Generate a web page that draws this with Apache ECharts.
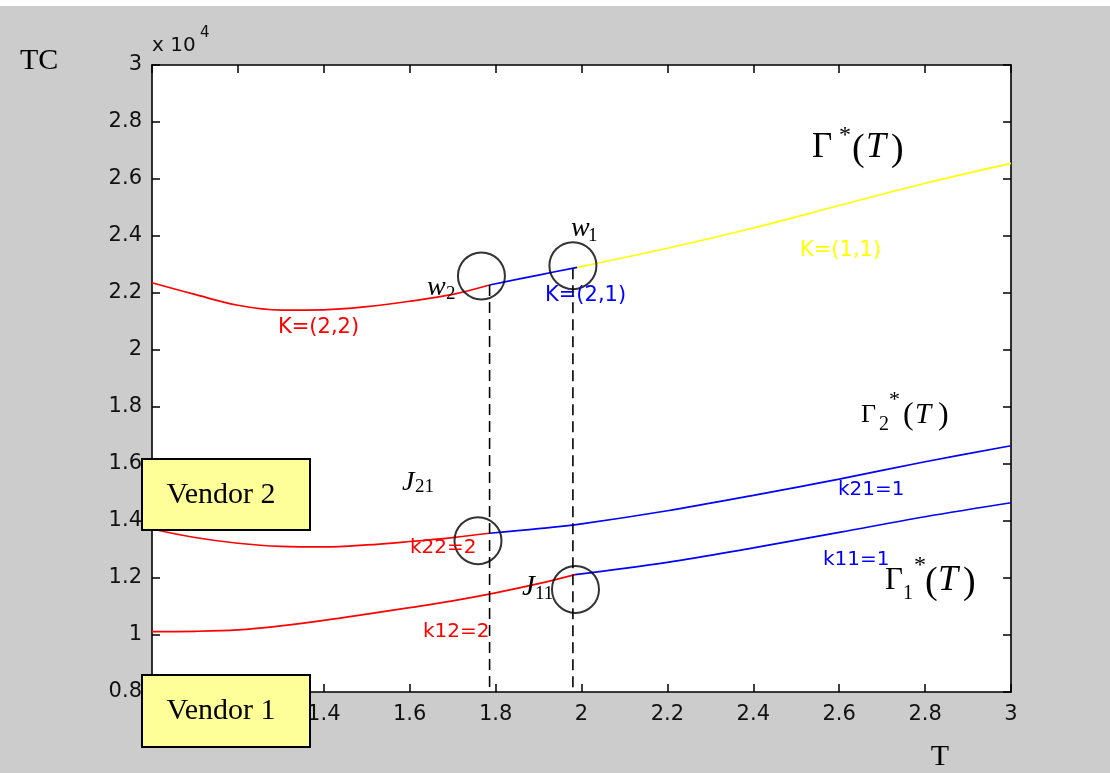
<!DOCTYPE html>
<html>
<head>
<meta charset="utf-8">
<script src="https://cdn.jsdelivr.net/npm/echarts@6/dist/echarts.min.js"></script>
<style>html,body{margin:0;padding:0;background:#fff}#c{width:1110px;height:773px}</style>
</head>
<body>
<div id="c"></div>
<script>
// ---- Data (TC in units of 10^4) ----
// Gamma*(T): upper envelope
const T_K22 = [1.0, 1.1, 1.2, 1.3, 1.4, 1.5, 1.6, 1.7, 1.786];
const TC_K22 = [2.236, 2.195, 2.157, 2.140, 2.141, 2.152, 2.171, 2.195, 2.228];
const T_K21 = [1.786, 1.9, 1.99];
const TC_K21 = [2.228, 2.263, 2.290];
const T_K11 = [1.99, 2.2, 2.4, 2.6, 2.8, 3.0];
const TC_K11 = [2.290, 2.357, 2.428, 2.507, 2.585, 2.655];
// Gamma2*(T): vendor 2
const T_k22 = [1.0, 1.1, 1.2, 1.3, 1.4, 1.5, 1.6, 1.7, 1.786];
const TC_k22 = [1.372, 1.342, 1.322, 1.311, 1.309, 1.316, 1.328, 1.342, 1.357];
const T_k21 = [1.786, 1.9, 2.0, 2.2, 2.4, 2.6, 2.8, 3.0];
const TC_k21 = [1.357, 1.373, 1.390, 1.436, 1.490, 1.547, 1.608, 1.664];
// Gamma1*(T): vendor 1
const T_k12 = [1.0, 1.1, 1.2, 1.3, 1.4, 1.5, 1.6, 1.7, 1.8, 1.9, 1.985];
const TC_k12 = [1.012, 1.013, 1.018, 1.032, 1.051, 1.073, 1.096, 1.120, 1.148, 1.180, 1.212];
const T_k11 = [1.985, 2.2, 2.4, 2.6, 2.8, 3.0];
const TC_k11 = [1.212, 1.255, 1.306, 1.360, 1.415, 1.464];
// switching points (dashed verticals) and circled points
const dashT = [1.786, 1.98];
const dashTop = [2.228, 2.287];
const circleT = [1.767, 1.98, 1.759, 1.986];
const circleTC = [2.260, 2.296, 1.331, 1.160];
// axes
const xMin = 1, xMax = 3, xStep = 0.2;
const yMin = 0.8, yMax = 3, yStep = 0.2;

const zip = (a, b) => a.map((v, i) => [v, b[i]]);
const RED = '#ff0000', BLUE = '#0000ff', YEL = '#ffff00';

function curve(name, T, V, color) {
  return {
    name, type: 'line', data: zip(T, V), smooth: 0.35, showSymbol: false,
    lineStyle: { color, width: 1.7 }, silent: true, z: 3
  };
}
const series = [
  curve('K=(2,2)', T_K22, TC_K22, RED),
  curve('K=(2,1)', T_K21, TC_K21, BLUE),
  curve('K=(1,1)', T_K11, TC_K11, YEL),
  curve('k22=2', T_k22, TC_k22, RED),
  curve('k21=1', T_k21, TC_k21, BLUE),
  curve('k12=2', T_k12, TC_k12, RED),
  curve('k11=1', T_k11, TC_k11, BLUE)
];
dashT.forEach((t, i) => {
  series.push({
    type: 'line', data: [[t, dashTop[i]], [t, yMin]], showSymbol: false, silent: true,
    lineStyle: { color: '#000', width: 1.6, type: [11, 6] }, z: 4
  });
});
series.push({
  type: 'scatter', data: zip(circleT, circleTC), symbol: 'circle', symbolSize: 47, silent: true,
  itemStyle: { color: 'rgba(0,0,0,0)', borderColor: '#000', borderWidth: 2 }, z: 5
});

const tickFmt = v => String(Math.round(v * 10) / 10);
const axisCommon = {
  type: 'value', splitLine: { show: false },
  axisLine: { show: true, onZero: false, lineStyle: { color: '#000', width: 1.6 } },
  axisTick: { show: true, inside: true, length: 8, lineStyle: { color: '#000', width: 1.5 } }
};
const labelStyle = { fontFamily: 'DejaVu Sans', fontSize: 21, color: '#111', formatter: tickFmt };

// text helpers
const SERIF = '"Liberation Serif", "Times New Roman", serif';
const SANS = '"DejaVu Sans", sans-serif';
function t(text, x, y, font, fill, align) {
  return {
    type: 'text', x, y, z: 60, silent: true,
    style: { text, font, fill: fill || '#000', align: align || 'left', verticalAlign: 'middle',
             textAlign: align || 'left', textVerticalAlign: 'middle' }
  };
}
function box(x, y, w, h, label) {
  return [
    { type: 'rect', z: 100, silent: true, shape: { x, y, width: w, height: h },
      style: { fill: '#ffff99', stroke: '#000', lineWidth: 2 } },
    { type: 'text', z: 101, silent: true, x: x + w / 2 - 5, y: y + h / 2 + 0.5,
      style: { text: label, font: '30px ' + SERIF, fill: '#000', align: 'center', verticalAlign: 'middle',
               textAlign: 'center', textVerticalAlign: 'middle' } }
  ];
}

const graphics = [
  { type: 'rect', z: 1, silent: true, shape: { x: 0, y: 0, width: 1110, height: 6 }, style: { fill: '#ffffff' } },
  t('TC', 20, 61, '30px ' + SERIF),
  t('x 10', 152, 46, '20px ' + SANS, '#111'),
  t('4', 200, 33, '15px ' + SANS, '#111'),
  t('T', 940, 757, '30px ' + SERIF, '#000', 'center'),
  // Gamma*(T)
  t('Γ', 812, 148, '35px ' + SERIF),
  t('*', 839, 136, '24px ' + SERIF),
  t('(', 852, 150, '38px ' + SERIF),
  t('T', 866, 148, 'italic 36px ' + SERIF),
  t(')', 891, 150, '38px ' + SERIF),
  // Gamma2*(T)
  t('Γ', 861, 415, '26px ' + SERIF),
  t('2', 879, 425, '20px ' + SERIF),
  t('*', 889, 400, '22px ' + SERIF),
  t('(', 903, 416, '32px ' + SERIF),
  t('T', 915, 415, 'italic 29px ' + SERIF),
  t(')', 938, 416, '32px ' + SERIF),
  // Gamma1*(T)
  t('Γ', 885, 581, '31px ' + SERIF),
  t('1', 903, 594, '20px ' + SERIF),
  t('*', 914, 566, '24px ' + SERIF),
  t('(', 925, 583, '38px ' + SERIF),
  t('T', 938, 581, 'italic 36px ' + SERIF),
  t(')', 963, 583, '38px ' + SERIF),
  // w / J annotations
  t('w', 571, 229, 'italic 28px ' + SERIF),
  t('1', 588, 236, '19px ' + SERIF),
  t('w', 427, 288, 'italic 28px ' + SERIF),
  t('2', 446, 294, '19px ' + SERIF),
  t('J', 402, 483, 'italic 28px ' + SERIF),
  t('21', 415, 487, '19px ' + SERIF),
  t('J', 522, 587, 'italic 29px ' + SERIF),
  t('11', 535, 594, '19px ' + SERIF),
  // segment labels
  t('K=(1,1)', 800, 251, '21px ' + SANS, YEL),
  t('K=(2,1)', 545, 296, '21px ' + SANS, BLUE),
  t('K=(2,2)', 278, 328, '21px ' + SANS, RED),
  t('k21=1', 838, 490, '20px ' + SANS, BLUE),
  t('k11=1', 823, 560, '20px ' + SANS, BLUE),
  t('k22=2', 410, 548, '20px ' + SANS, RED),
  t('k12=2', 423, 632, '20px ' + SANS, RED),
  ...box(142, 459, 168, 71, 'Vendor 2'),
  ...box(142, 675, 168, 72, 'Vendor 1')
];

const chart = echarts.init(document.getElementById('c'), null, { renderer: 'canvas' });
chart.setOption({
  animation: false,
  backgroundColor: '#cccccc',
  grid: { left: 152, right: 99, top: 65, bottom: 81, show: true, backgroundColor: '#ffffff', borderWidth: 0 },
  xAxis: [
    Object.assign({}, axisCommon, { min: xMin, max: xMax, interval: xStep, position: 'bottom',
      axisLabel: Object.assign({ margin: 12 }, labelStyle) }),
    Object.assign({}, axisCommon, { min: xMin, max: xMax, interval: xStep, position: 'top',
      axisLabel: { show: false } })
  ],
  yAxis: [
    Object.assign({}, axisCommon, { min: yMin, max: yMax, interval: yStep, position: 'left',
      axisLabel: Object.assign({ margin: 10 }, labelStyle) }),
    Object.assign({}, axisCommon, { min: yMin, max: yMax, interval: yStep, position: 'right',
      axisLabel: { show: false } })
  ],
  series,
  graphic: { elements: graphics }
});
</script>
</body>
</html>
